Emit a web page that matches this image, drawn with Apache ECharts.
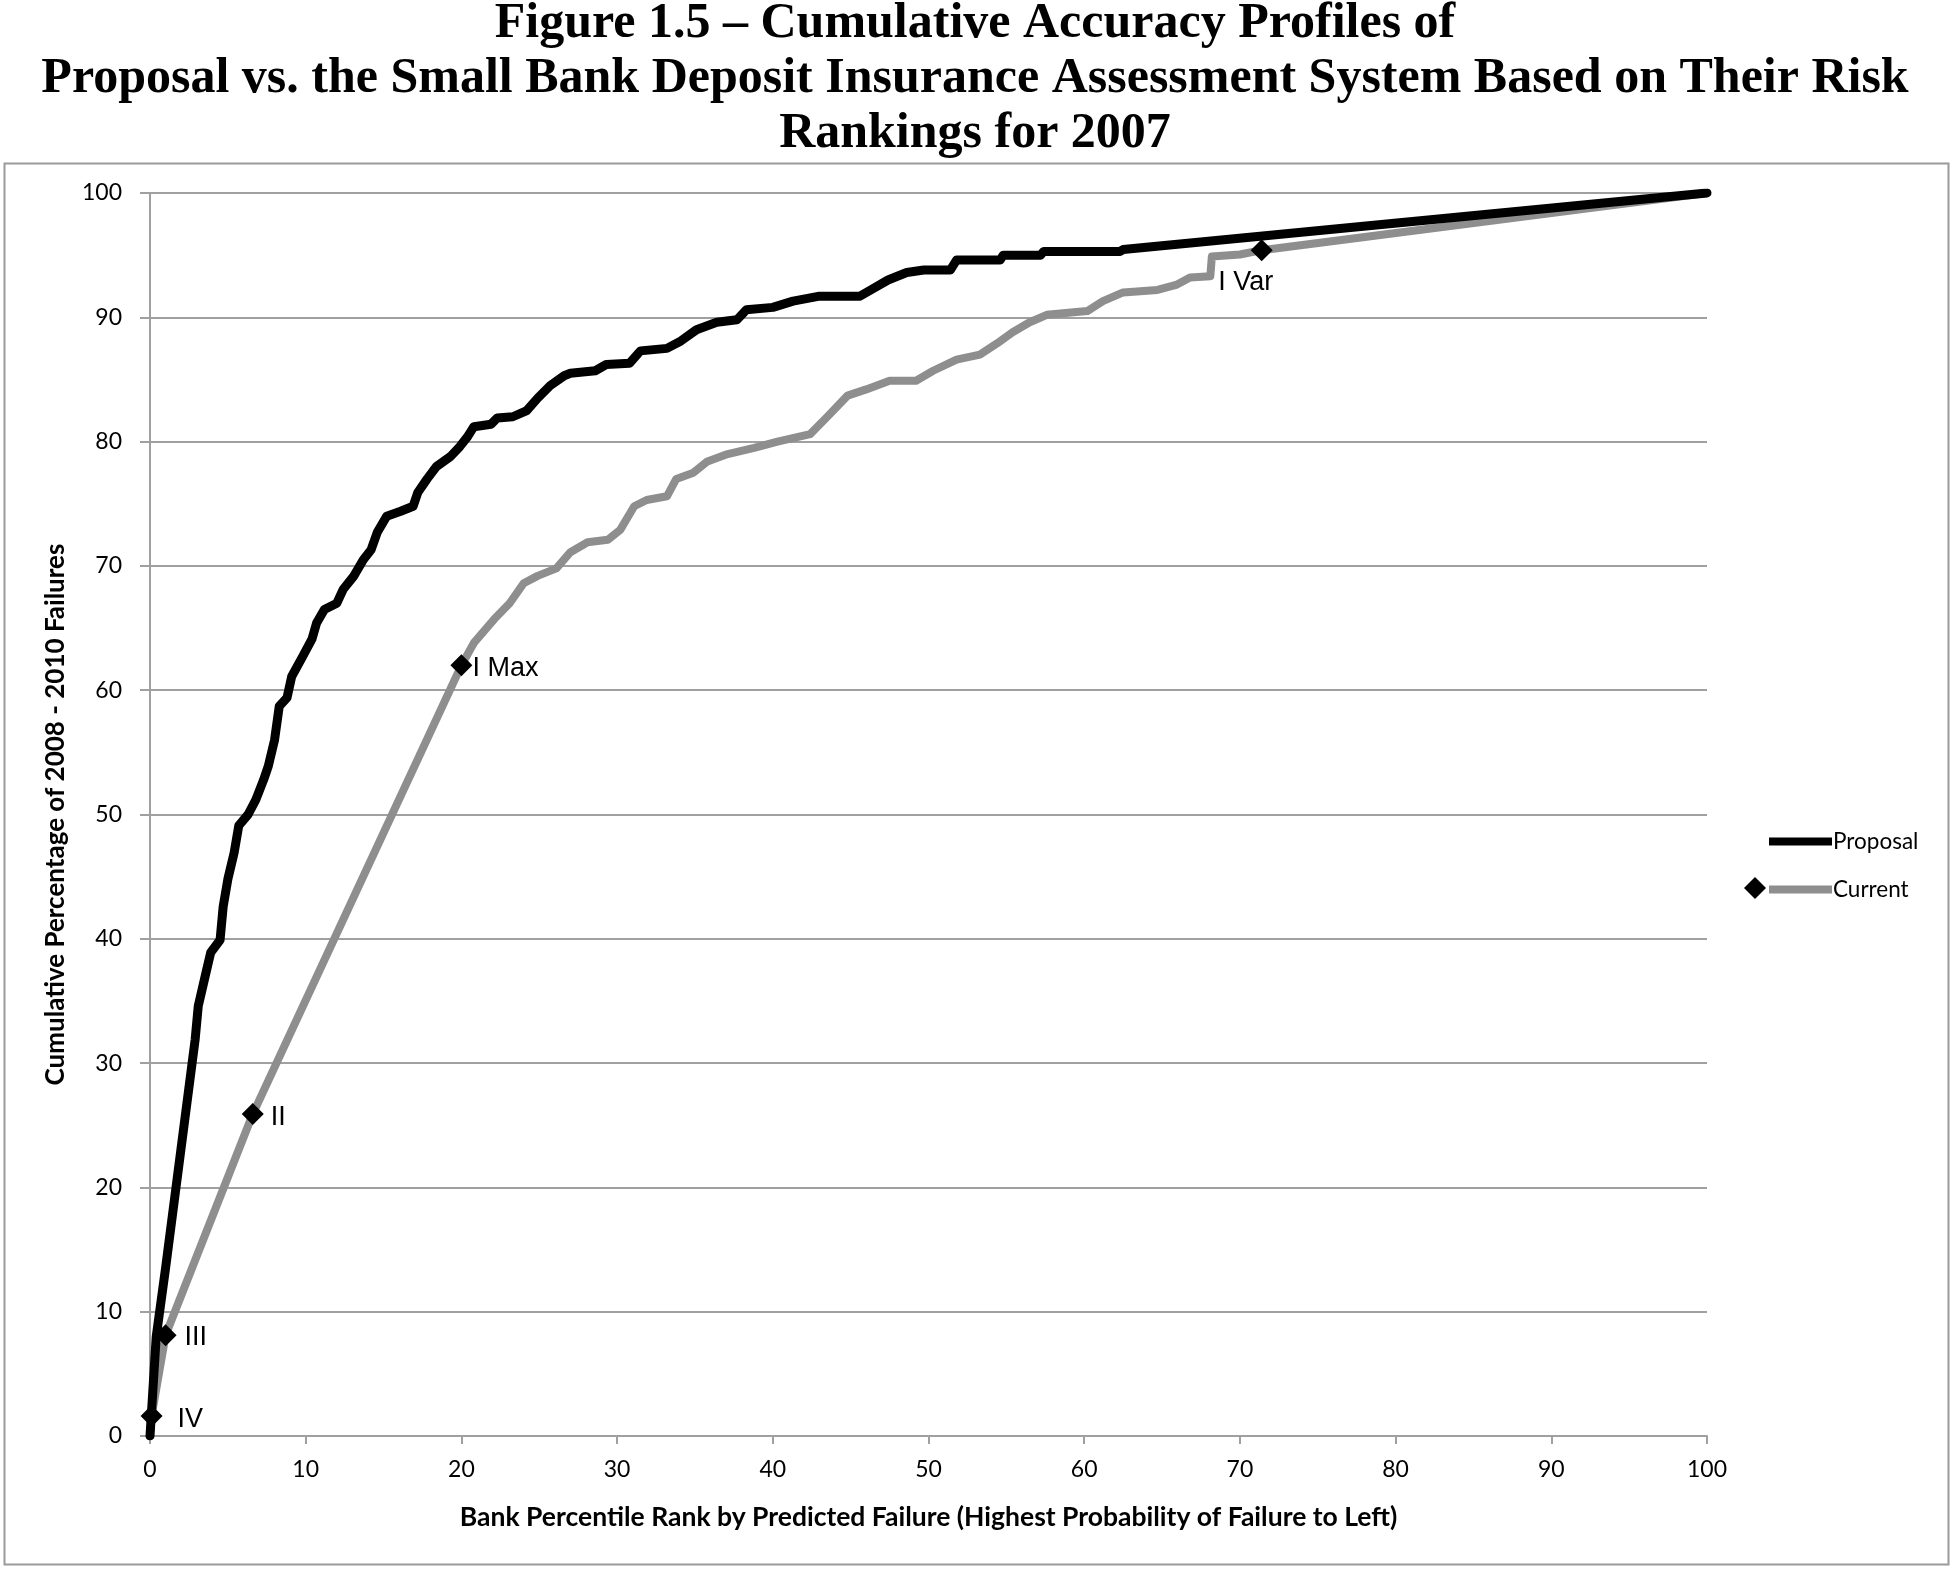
<!DOCTYPE html>
<html>
<head>
<meta charset="utf-8">
<script src="https://cdn.jsdelivr.net/npm/echarts@6/dist/echarts.min.js"></script>
<style>
  html, body { margin: 0; padding: 0; background: #ffffff; }
  #chart { width: 1950px; height: 1570px; }
</style>
</head>
<body>
<div id="chart"></div>
<script>
// ---------------- DATA ----------------
const titleLines = [
  'Figure 1.5 \u2013 Cumulative Accuracy Profiles of',
  'Proposal vs. the Small Bank Deposit Insurance Assessment System Based on Their Risk',
  'Rankings for 2007'
];
const xAxisTitle = 'Bank Percentile Rank by Predicted Failure (Highest Probability of Failure to Left)';
const yAxisTitle = 'Cumulative Percentage of 2008 - 2010 Failures';
const seriesNames = ['Proposal', 'Current'];

const proposalX = [0, 0.4, 1.0, 2.9, 3.1, 3.6, 3.9, 4.5, 4.7, 5.0, 5.4, 5.7, 6.3, 6.8, 7.3, 7.6, 8.0, 8.3, 8.8, 9.1,
  9.8, 10.4, 10.7, 11.2, 12.0, 12.4, 13.1, 13.7, 14.2, 14.6, 15.2, 16.1, 16.9, 17.2, 17.8, 18.4, 19.3, 19.9, 20.4, 20.8,
  21.9, 22.3, 23.3, 24.2, 24.9, 25.7, 26.6, 27.0, 28.6, 29.3, 30.8, 31.5, 33.2, 34.1, 35.1, 36.4, 37.7, 38.3, 40.0, 41.3,
  43.0, 45.6, 46.3, 47.4, 48.6, 49.7, 51.4, 51.8, 54.6, 54.8, 57.2, 57.4, 62.3, 62.5, 100];
const proposalY = [0, 8.0, 13.5, 31.9, 34.6, 37.3, 38.9, 39.9, 42.6, 44.8, 46.9, 49.1, 50.0, 51.2, 52.8, 53.9, 56.0, 58.7, 59.4, 61.1,
  62.7, 64.1, 65.4, 66.5, 67.0, 68.1, 69.2, 70.5, 71.3, 72.7, 74.0, 74.4, 74.8, 75.9, 77.0, 78.0, 78.8, 79.6, 80.4, 81.2,
  81.4, 81.9, 82.0, 82.5, 83.5, 84.5, 85.3, 85.5, 85.7, 86.2, 86.3, 87.3, 87.5, 88.1, 89.0, 89.6, 89.8, 90.6, 90.8, 91.3,
  91.7, 91.7, 92.2, 93.0, 93.6, 93.8, 93.8, 94.6, 94.6, 95.0, 95.0, 95.3, 95.3, 95.45, 100];

const currentX = [0, 0.1, 1.0, 6.6, 20.0, 20.8, 22.1, 23.1, 24.0, 24.9, 26.1, 27.0, 28.1, 29.4, 30.2, 31.1, 31.9, 33.2, 33.8, 34.9,
  35.8, 37.1, 38.8, 40.3, 42.4, 43.5, 44.8, 46.0, 47.5, 49.2, 50.3, 51.8, 53.3, 54.4, 55.4, 56.5, 57.6, 60.2, 61.2, 62.5,
  64.7, 65.9, 66.8, 68.1, 68.2, 70.0, 71.4, 100];
const currentY = [0, 1.6, 8.1, 25.9, 62.0, 63.8, 65.7, 67.0, 68.6, 69.2, 69.8, 71.1, 71.9, 72.1, 72.9, 74.8, 75.3, 75.6, 77.0, 77.5,
  78.4, 79.0, 79.5, 80.0, 80.6, 82.0, 83.7, 84.2, 84.9, 84.9, 85.7, 86.6, 87.0, 87.9, 88.8, 89.6, 90.2, 90.5, 91.3, 92.0,
  92.2, 92.6, 93.2, 93.3, 94.9, 95.05, 95.4, 100];
// marked points of the Current series (index into currentX/currentY -> label)
const currentMarkerIndex = [1, 2, 3, 4, 46];
const currentMarkerNames = ['IV', 'III', 'II', 'I Max', 'I Var'];

const xTicks = { min: 0, max: 100, interval: 10 };
const yTicks = { min: 0, max: 100, interval: 10 };

// ---------------- STYLE ----------------
const labelStyle = {
  'IV':    { position: 'right', distance: 15, offset: [0, 3] },
  'III':   { position: 'right', distance: 8,  offset: [0, 2] },
  'II':    { position: 'right', distance: 7,  offset: [0, 3] },
  'I Max': { position: 'right', distance: 0,  offset: [0, 3] },
  'I Var': { position: 'bottom', distance: 8, offset: [-16, 0] }
};
const GRAY = '#8e8e8e';
const GRID = '#a0a0a0';
const sansTick = 'Lato';
const titleTops = [-8, 47, 102];

const proposalData = proposalX.map((x, i) => [x, proposalY[i]]);
const currentData = currentX.map((x, i) => {
  const k = currentMarkerIndex.indexOf(i);
  if (k < 0) return { value: [x, currentY[i]], symbol: 'none' };
  const nm = currentMarkerNames[k];
  const ls = labelStyle[nm];
  return {
    value: [x, currentY[i]],
    symbol: 'diamond',
    label: {
      show: true, formatter: nm, position: ls.position, distance: ls.distance, offset: ls.offset,
      fontFamily: 'Liberation Sans', fontSize: 27, color: '#000'
    }
  };
});

const chart = echarts.init(document.getElementById('chart'), null, { renderer: 'canvas' });
chart.setOption({
  backgroundColor: '#ffffff',
  animation: false,
  title: titleLines.map((t, i) => ({
    text: t,
    left: 'center',
    top: titleTops[i],
    textStyle: { fontFamily: 'Liberation Serif', fontWeight: 'bold', fontSize: 50, lineHeight: 55, color: '#000' }
  })),
  graphic: [
    {
      type: 'rect', left: 2, top: 161, z: -10, silent: true,
      shape: { x: 0, y: 0, width: 1944, height: 1401 },
      style: { fill: 'none', stroke: '#9a9a9a', lineWidth: 2 }
    },
    {
      // legend marker decoration for "Current"
      type: 'polygon', silent: true, z: 100,
      shape: { points: [[1755, 877], [1766, 888], [1755, 899], [1744, 888]] },
      style: { fill: '#000' }
    }
  ],
  legend: {
    orient: 'vertical',
    left: 1764, top: 825,
    itemWidth: 63, itemHeight: 20, itemGap: 25,
    symbolKeepAspect: true,
    data: [
      { name: seriesNames[0], icon: 'path://M0,0 L62,0 L62,8 L0,8 Z', itemStyle: { color: '#000' } },
      { name: seriesNames[1], icon: 'path://M0,0 L62,0 L62,8 L0,8 Z', itemStyle: { color: GRAY } }
    ],
    textStyle: { fontFamily: sansTick, fontSize: 22.5, color: '#000', padding: [0, 0, 0, -4] }
  },
  grid: { left: 150, right: 243, top: 193, bottom: 134, containLabel: false },
  xAxis: {
    type: 'value', min: xTicks.min, max: xTicks.max, interval: xTicks.interval,
    name: xAxisTitle, nameLocation: 'middle', nameGap: 68,
    nameTextStyle: { fontFamily: sansTick, fontWeight: 'bold', fontSize: 26.5, color: '#000' },
    axisLine: { show: true, lineStyle: { color: GRID, width: 2 } },
    axisTick: { show: true, length: 8, lineStyle: { color: GRID, width: 2 } },
    axisLabel: { margin: 22, fontFamily: sansTick, fontSize: 23, color: '#000' },
    splitLine: { show: false }
  },
  yAxis: {
    type: 'value', min: yTicks.min, max: yTicks.max, interval: yTicks.interval,
    name: yAxisTitle, nameLocation: 'middle', nameGap: 81, nameRotate: 90,
    nameTextStyle: { fontFamily: sansTick, fontWeight: 'bold', fontSize: 26, color: '#000' },
    axisLine: { show: true, lineStyle: { color: GRID, width: 2 } },
    axisTick: { show: true, length: 10, lineStyle: { color: GRID, width: 2 } },
    axisLabel: { margin: 28, fontFamily: sansTick, fontSize: 23, color: '#000' },
    splitLine: { show: true, lineStyle: { color: GRID, width: 2 } }
  },
  series: [
    {
      name: seriesNames[0], type: 'line', data: proposalData,
      symbol: 'none', showSymbol: false,
      lineStyle: { color: '#000', width: 9, cap: 'round', join: 'round' },
      itemStyle: { color: '#000' },
      z: 3
    },
    {
      name: seriesNames[1], type: 'line', data: currentData,
      symbol: 'diamond', symbolSize: 22, showSymbol: true,
      lineStyle: { color: GRAY, width: 8, cap: 'round', join: 'round' },
      itemStyle: { color: '#000' },
      z: 2
    }
  ]
});
</script>
</body>
</html>
